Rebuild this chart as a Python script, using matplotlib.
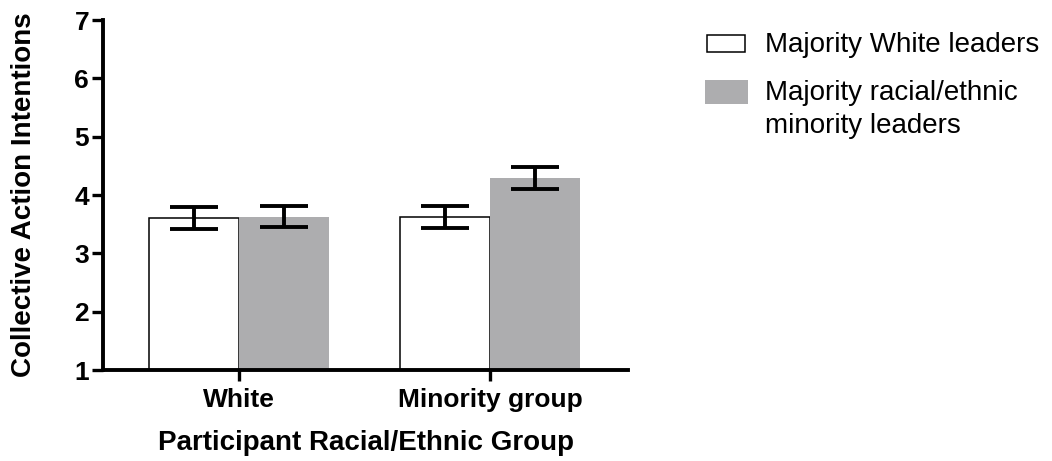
import matplotlib
matplotlib.use("Agg")
import matplotlib.pyplot as plt
from matplotlib.patches import Rectangle
import numpy as np

plt.rcParams['font.family'] = ['Liberation Sans', 'DejaVu Sans']

groups = ["White", "Minority group"]
series_names = ["Majority White leaders", "Majority racial/ethnic\nminority leaders"]
white_leaders_mean = [3.60, 3.62]
white_leaders_se = [0.19, 0.19]
minority_leaders_mean = [3.63, 4.29]
minority_leaders_se = [0.18, 0.19]

W, H = 1052, 461
fig = plt.figure(figsize=(W / 100, H / 100), dpi=100)
ax = fig.add_axes([103 / W, 1 - 370 / H, (628 - 103) / W, (370 - 20) / H])

x = np.arange(len(groups))
w = 0.36
grey = "#adadaf"
err_kw = dict(ecolor="black", elinewidth=2.8, capsize=17, capthick=2.8)

ax.bar(x - w / 2, np.array(white_leaders_mean) - 1, w, bottom=1,
       color="white", edgecolor="black", linewidth=1.1, zorder=2)
ax.errorbar(x - w / 2, white_leaders_mean, yerr=white_leaders_se, fmt="none",
            zorder=3, **err_kw)
ax.bar(x + w / 2, np.array(minority_leaders_mean) - 1, w, bottom=1,
       color=grey, edgecolor="none", zorder=2)
ax.errorbar(x + w / 2, minority_leaders_mean, yerr=minority_leaders_se, fmt="none",
            zorder=3, **err_kw)

ax.set_ylim(1, 7)
ax.set_yticks(range(1, 8))
ax.set_xlim(-0.542, 1.55)
ax.set_xticks(x)
ax.set_xticklabels(groups, fontsize=19, fontweight="bold")
for lab in ax.get_yticklabels():
    lab.set_fontsize(19)
    lab.set_fontweight("bold")

for s in ["top", "right"]:
    ax.spines[s].set_visible(False)
for s in ["left", "bottom"]:
    ax.spines[s].set_linewidth(2.8)
ax.tick_params(axis="both", width=2.4, length=8)
ax.tick_params(axis="x", pad=5)
ax.tick_params(axis="y", pad=2)

ax.set_ylabel("Collective Action Intentions", fontsize=20, fontweight="bold")
ax.yaxis.set_label_coords(-0.15, 0.5)
ax.yaxis.label.set_va("center")
ax.set_xlabel("Participant Racial/Ethnic Group", fontsize=20, fontweight="bold")
ax.xaxis.set_label_coords(0.5, -0.172)

# legend drawn in figure pixel space
def fx(px):
    return px / W

def fy(py):
    return 1 - py / H

fig.patches.append(Rectangle((fx(707), fy(52)), fx(745) - fx(707), fy(35) - fy(52),
                             transform=fig.transFigure, facecolor="white",
                             edgecolor="black", linewidth=1.1))
fig.patches.append(Rectangle((fx(705), fy(104)), fx(748) - fx(705), fy(80) - fy(104),
                             transform=fig.transFigure, facecolor=grey,
                             edgecolor="none"))
fig.text(fx(765), fy(52), series_names[0], fontsize=20, va="baseline", ha="left")
for i, line in enumerate(series_names[1].split("\n")):
    fig.text(fx(765), fy(100 + 33 * i), line, fontsize=20, va="baseline", ha="left")

fig.savefig("out.png", dpi=100)
